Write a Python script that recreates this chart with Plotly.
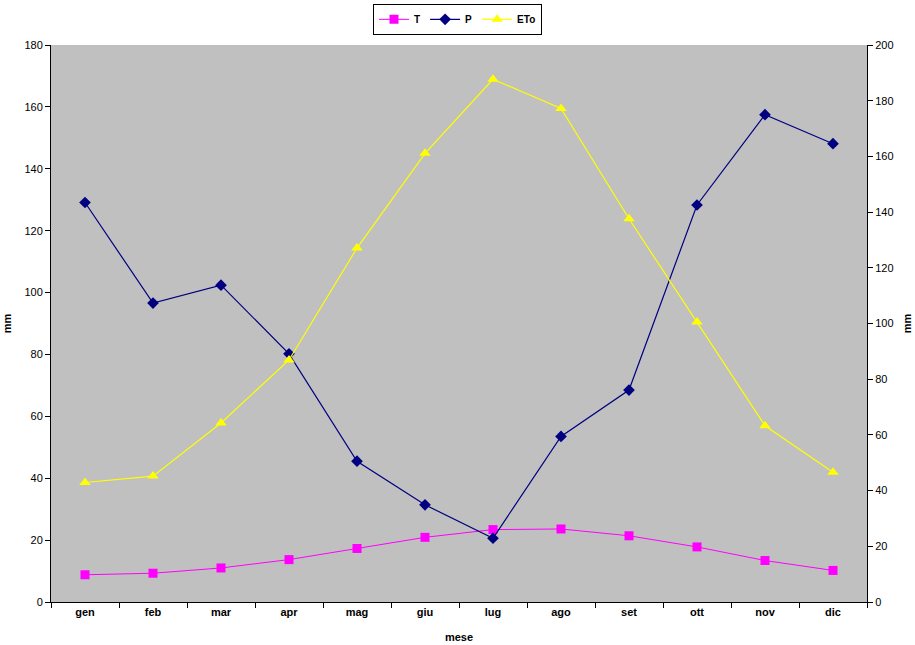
import plotly.graph_objects as go

months = ["gen", "feb", "mar", "apr", "mag", "giu", "lug", "ago", "set", "ott", "nov", "dic"]
T = [8.8, 9.3, 11.0, 13.7, 17.3, 20.9, 23.4, 23.6, 21.4, 17.8, 13.4, 10.2]
P = [129.1, 96.6, 102.4, 80.2, 45.5, 31.4, 20.6, 53.5, 68.5, 128.3, 157.5, 148.1]
ETo = [42.9, 45.2, 64.3, 86.9, 127.1, 161.1, 187.7, 177.2, 137.6, 100.5, 63.3, 46.6]

left_ticks = list(range(0, 181, 20))
right_ticks = list(range(0, 201, 20))

FONT = "Liberation Sans, Arial, sans-serif"

fig = go.Figure()
fig.add_trace(go.Scatter(x=months, y=T, name="T", mode="lines+markers",
                         line=dict(color="#FF00FF", width=1),
                         marker=dict(symbol="square", size=9, color="#FF00FF")))
fig.add_trace(go.Scatter(x=months, y=P, name="P", mode="lines+markers",
                         line=dict(color="#000080", width=1.2),
                         marker=dict(symbol="diamond", size=9, color="#000080")))
fig.add_trace(go.Scatter(x=months, y=ETo, name="ETo", mode="lines+markers",
                         yaxis="y2",
                         line=dict(color="#FFFF00", width=1.2),
                         marker=dict(symbol="triangle-up", size=10, color="#FFFF00")))

fig.update_layout(
    width=915, height=645,
    margin=dict(l=51, r=48, t=45, b=43, autoexpand=False),
    paper_bgcolor="white",
    plot_bgcolor="#C0C0C0",
    font=dict(family=FONT, size=11, color="black"),
    showlegend=True,
    legend=dict(orientation="h", x=0.5, xanchor="center", xref="container",
                y=0.994, yanchor="top", yref="container",
                bgcolor="white", bordercolor="black", borderwidth=1,
                font=dict(family=FONT, size=10, weight="bold"),
                itemwidth=30, tracegroupgap=0, entrywidth=0),
    xaxis=dict(type="category", categoryorder="array", categoryarray=months,
               range=[-0.5, 11.5], tickson="boundaries", automargin=False,
               ticks="outside", ticklen=5, tickcolor="black",
               showline=True, linecolor="black", linewidth=1,
               showgrid=False, zeroline=False,
               tickfont=dict(family=FONT, size=11, weight="bold"),
               title=dict(text="mese", font=dict(family=FONT, size=11, weight="bold"),
                          standoff=16)),
    yaxis=dict(range=[0, 180], tickvals=left_ticks, ticks="outside", ticklen=5,
               automargin=False,
               tickcolor="black", showline=True, linecolor="black", linewidth=1,
               showgrid=False, zeroline=False,
               tickfont=dict(family=FONT, size=11),
               title=dict(text="mm", font=dict(family=FONT, size=11, weight="bold"),
                          standoff=10)),
    yaxis2=dict(range=[0, 200], tickvals=right_ticks, overlaying="y", side="right",
                automargin=False,
                ticks="outside", ticklen=5, tickcolor="black",
                showline=True, linecolor="black", linewidth=1,
                showgrid=False, zeroline=False,
                tickfont=dict(family=FONT, size=11),
                title=dict(text="mm", font=dict(family=FONT, size=11, weight="bold"),
                           standoff=10)),
)

fig.write_html("out.html")
